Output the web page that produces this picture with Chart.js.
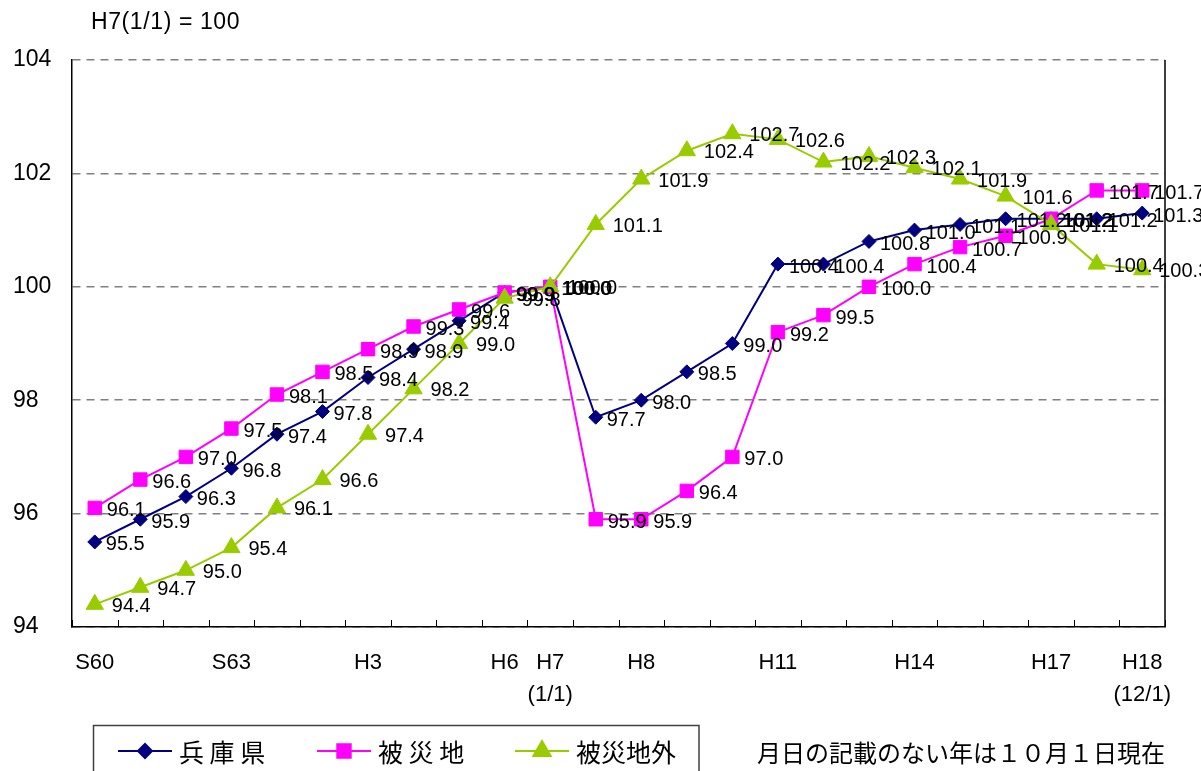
<!DOCTYPE html>
<html>
<head>
<meta charset="utf-8">
<script src="https://cdn.jsdelivr.net/npm/chart.js@4.4.1/dist/chart.umd.min.js"></script>
<style>
html, body { margin: 0; padding: 0; background: #fff; overflow: hidden; }
canvas { display: block; }
</style>
</head>
<body>
<canvas id="chart" width="1201" height="771"></canvas>
<script>
const categories = ['S60', 'S61', 'S62', 'S63', 'H1', 'H2', 'H3', 'H4', 'H5', 'H6', 'H7(1/1)', 'H7',
    'H8', 'H9', 'H10', 'H11', 'H12', 'H13', 'H14', 'H15', 'H16', 'H17', 'H18', 'H18(12/1)']
const tickLabels = ['S60', '', '', 'S63', '', '', 'H3', '', '', 'H6', ['H7', '(1/1)'], '',
    'H8', '', '', 'H11', '', '', 'H14', '', '', 'H17', '', ['H18', '(12/1)']]
const hyogo = [95.5, 95.9, 96.3, 96.8, 97.4, 97.8, 98.4, 98.9, 99.4, 99.9, 100.0, 97.7,
    98.0, 98.5, 99.0, 100.4, 100.4, 100.8, 101.0, 101.1, 101.2, 101.2, 101.2, 101.3]
const hisaichi = [96.1, 96.6, 97.0, 97.5, 98.1, 98.5, 98.9, 99.3, 99.6, 99.9, 100.0, 95.9,
    95.9, 96.4, 97.0, 99.2, 99.5, 100.0, 100.4, 100.7, 100.9, 101.2, 101.7, 101.7]
const hisaichiGai = [94.4, 94.7, 95.0, 95.4, 96.1, 96.6, 97.4, 98.2, 99.0, 99.8, 100.0, 101.1,
    101.9, 102.4, 102.7, 102.6, 102.2, 102.3, 102.1, 101.9, 101.6, 101.1, 100.4, 100.3]
const yTicks = [94, 96, 98, 100, 102, 104]
const seriesNames = ['兵 庫 県', '被 災 地', '被災地外']
const titleText = 'H7(1/1) = 100'
const noteText = '月日の記載のない年は１０月１日現在'

const sans = "'Liberation Sans', Arial, sans-serif"
const cjk = "'Noto Sans CJK JP', 'Noto Sans CJK SC', sans-serif"

// label offsets from the point, per series
const labelShift = [[11, 3], [12, 3], [17, 2]]

const extras = {
    id: 'extras',
    afterDatasetsDraw(chart) {
        const ctx = chart.ctx
        ctx.save()
        ctx.font = '20px ' + sans
        ctx.fillStyle = '#000'
        ctx.textBaseline = 'middle'
        ctx.textAlign = 'left'
        chart.data.datasets.forEach((ds, i) => {
            const meta = chart.getDatasetMeta(i)
            meta.data.forEach((pt, j) => {
                ctx.fillText(ds.data[j].toFixed(1), pt.x + labelShift[i][0], pt.y + labelShift[i][1])
            })
        })
        ctx.restore()
    },
    afterDraw(chart) {
        const ctx = chart.ctx
        const area = chart.chartArea
        const x = chart.scales.x
        ctx.save()
        // right border
        ctx.strokeStyle = '#000'
        ctx.lineWidth = 1.5
        ctx.beginPath()
        ctx.moveTo(area.right, area.top)
        ctx.lineTo(area.right, area.bottom)
        ctx.stroke()
        // inward tick marks between categories
        const step = x.getPixelForValue(1) - x.getPixelForValue(0)
        ctx.lineWidth = 1
        ctx.beginPath()
        for (let i = 0; i <= categories.length; i++) {
            const px = Math.round(x.getPixelForValue(0) - step / 2 + i * step) + 0.5
            ctx.moveTo(px, area.bottom)
            ctx.lineTo(px, area.bottom - 7)
        }
        ctx.stroke()
        // title
        ctx.fillStyle = '#000'
        ctx.font = '23px ' + sans
        ctx.textBaseline = 'middle'
        ctx.letterSpacing = '0.6px'
        ctx.fillText(titleText, 91, 23)
        ctx.letterSpacing = '0px'
        // legend box
        ctx.strokeStyle = '#404040'
        ctx.lineWidth = 1.5
        ctx.strokeRect(93.5, 725.5, 605.5, 80)
        const starts = [118, 317, 515]
        chart.data.datasets.forEach((ds, i) => {
            const sx = starts[i]
            ctx.strokeStyle = ds.borderColor
            ctx.lineWidth = 2
            ctx.beginPath()
            ctx.moveTo(sx, 751)
            ctx.lineTo(sx + 54, 751)
            ctx.stroke()
            ctx.fillStyle = ds.backgroundColor
            Chart.helpers.drawPoint(ctx, {
                pointStyle: ds.pointStyle, radius: ds.pointRadius, rotation: 0, borderWidth: 1
            }, sx + 27, 751)
            ctx.fillStyle = '#000'
            ctx.font = '25px ' + cjk
            ctx.fillText(ds.label, sx + 61, 752)
        })
        ctx.font = '24px ' + cjk
        ctx.fillText(noteText, 757, 753)
        ctx.restore()
    }
}

const base = { borderWidth: 2, pointBorderWidth: 1, fill: false, tension: 0 }

new Chart(document.getElementById('chart'), {
    type: 'line',
    data: {
        labels: categories,
        datasets: [
            Object.assign({ label: seriesNames[0], data: hyogo, borderColor: '#000080', backgroundColor: '#000080',
                pointStyle: 'rectRot', pointRadius: 7, order: 2 }, base),
            Object.assign({ label: seriesNames[1], data: hisaichi, borderColor: '#ff00ff', backgroundColor: '#ff00ff',
                pointStyle: 'rect', pointRadius: 9.5, order: 1 }, base),
            Object.assign({ label: seriesNames[2], data: hisaichiGai, borderColor: '#99cc00', backgroundColor: '#99cc00',
                pointStyle: 'triangle', pointRadius: 10, order: 0 }, base)
        ]
    },
    options: {
        responsive: false,
        animation: false,
        layout: { padding: { left: 13, right: 36, top: 60, bottom: 0 } },
        plugins: { legend: { display: false }, tooltip: { enabled: false } },
        scales: {
            x: {
                offset: true,
                grid: { display: false, drawTicks: false },
                border: { display: true, color: '#000', width: 1.5 },
                afterFit(scale) { scale.height = 144 },
                ticks: {
                    autoSkip: false,
                    maxRotation: 0,
                    padding: 20,
                    color: '#000',
                    font: { family: sans, size: 22, lineHeight: 1.45 },
                    callback: (v, i) => tickLabels[i]
                }
            },
            y: {
                min: yTicks[0],
                max: yTicks[yTicks.length - 1],
                afterFit(scale) { scale.width = 59 },
                afterBuildTicks(scale) { scale.ticks = yTicks.map(v => ({ value: v })) },
                grid: { color: '#808080', lineWidth: 1.5, drawTicks: false },
                border: { display: true, color: '#000', width: 1.5, dash: [8, 6] },
                ticks: {
                    crossAlign: 'far',
                    color: '#000',
                    font: { family: sans, size: 23 }
                }
            }
        }
    },
    plugins: [extras]
})
</script>
</body>
</html>
